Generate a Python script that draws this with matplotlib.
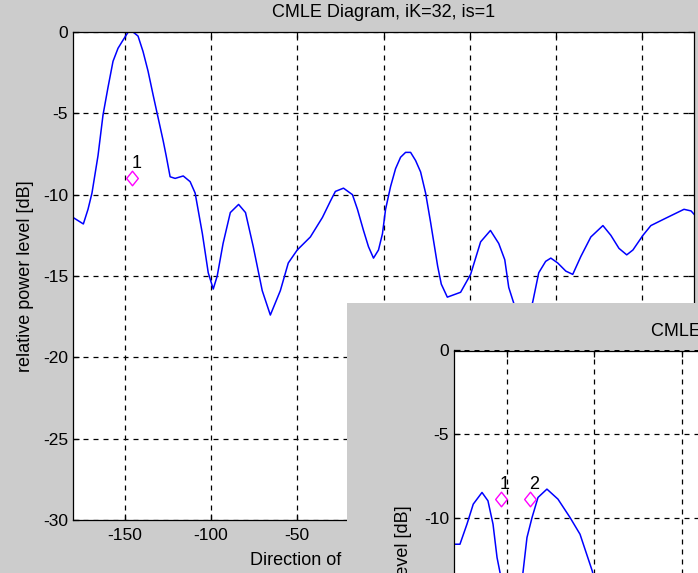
import matplotlib
matplotlib.use('Agg')
import matplotlib.pyplot as plt
from matplotlib.path import Path

plt.rcParams['font.family'] = ['Liberation Sans', 'DejaVu Sans']
plt.rcParams['axes.unicode_minus'] = False

# ---------------- data ----------------
title_main = 'CMLE Diagram, iK=32, is=1'
title_second = 'CMLE Diagram, iK=32, is=2'
x_label = 'Direction of arrival [deg]'
y_label = 'relative power level [dB]'
x_ticks = [-150, -100, -50, 0, 50, 100, 150]
y_ticks = [0, -5, -10, -15, -20, -25, -30]
second_visible_y_ticks = [0, -5, -10]

main_angle = [-180, -174, -171.3, -169, -165.5, -162.6, -159.7, -156.8, -153.9, -151, -148,
              -145.2, -142.3, -139.4, -136.5, -133.5, -130.6, -127.7, -126, -123.7, -120.8,
              -116.1, -112.1, -109.2, -105, -101.6, -98.7, -96.4, -93, -88.8, -84, -80, -75.5,
              -70.3, -65.6, -59.8, -55.2, -50, -42.4, -35.4, -30.8, -27.9, -23.2, -18, -15.1,
              -11.6, -8.7, -5.8, -2.9, -0.6, 1.2, 4.1, 7, 9.9, 12.8, 15.7, 18.6, 21.5, 24.4,
              27.3, 31.4, 33.5, 37, 44.7, 50.5, 56.3, 62, 66.8, 70.3, 72.6, 75, 81, 86.5, 90,
              94, 97, 101, 105.7, 109.7, 114.4, 120.2, 127.2, 131.8, 136.5, 141, 144.6, 150.4,
              155, 162.6, 168.4, 174.2, 178.3, 180]
main_power = [-11.4, -11.8, -10.9, -9.9, -7.6, -5.1, -3.4, -1.8, -1.0, -0.5, 0.0,
              0.0, -0.25, -1.2, -2.4, -3.9, -5.3, -6.7, -7.6, -8.9, -9.0,
              -8.85, -9.2, -9.9, -12.4, -14.8, -15.8, -15.0, -13.0, -11.1, -10.6, -11.1, -13.2,
              -15.9, -17.4, -15.9, -14.2, -13.4, -12.6, -11.4, -10.4, -9.8, -9.6, -10.0, -10.9,
              -12.2, -13.2, -13.9, -13.4, -12.4, -10.9, -9.5, -8.4, -7.7, -7.4, -7.4, -7.9, -8.6, -9.9,
              -11.7, -14.4, -15.5, -16.3, -16.0, -14.9, -12.9, -12.2, -13.0, -14.0, -15.7, -16.5, -18.5, -16.6, -14.8,
              -14.1, -13.9, -14.2, -14.7, -14.9, -13.8, -12.6, -11.9, -12.5, -13.3, -13.7, -13.4, -12.5,
              -11.9, -11.5, -11.2, -10.9, -11.0, -11.2]
main_marker_angle = [-146]
main_marker_power = [-9.0]
main_marker_labels = ['1']

second_angle = [-180, -176.6, -172.6, -169, -164, -160.6, -157.7, -155.4, -153.7, -147,
                -140.6, -138.3, -135.4, -132, -126.9, -120.6, -113.7, -108, -101, -95]
second_power = [-11.6, -11.6, -10.4, -9.2, -8.5, -9.0, -10.4, -12.4, -13.3, -18.0,
                -13.3, -11.2, -10.0, -8.8, -8.3, -8.9, -10.0, -11.0, -13.2, -15.8]
second_marker_angle = [-153.1, -136.6]
second_marker_power = [-8.9, -8.9]
second_marker_labels = ['1', '2']

# ---------------- layout ----------------
W, H = 698, 573
FS = 12.5
LFS = 13
GRAY = '#cccccc'


def px_rect(l, t, w, h):
    return [l / W, 1 - (t + h) / H, w / W, h / H]


diamond = Path([(0, 1), (0.8, 0), (0, -1), (-0.8, 0), (0, 1)],
               [Path.MOVETO, Path.LINETO, Path.LINETO, Path.LINETO, Path.CLOSEPOLY])


def style(ax, ylabels=y_ticks, xlabels=True):
    ax.set_xlim(-180, 180)
    ax.set_ylim(-30, 0)
    ax.set_xticks(x_ticks)
    ax.set_yticks(y_ticks)
    ax.set_xticklabels([str(t) for t in x_ticks] if xlabels else ['' for t in x_ticks])
    ax.set_yticklabels([str(t) if t in ylabels else '' for t in y_ticks])
    ax.grid(True, color='black', linestyle=(0, (4, 4)), linewidth=0.9)
    ax.tick_params(direction='in', length=4.5, width=0.9, top=True, right=True,
                   labelsize=FS, colors='black')
    ax.tick_params(axis='x', pad=6)
    ax.tick_params(axis='y', pad=3.5)
    for s in ax.spines.values():
        s.set_linewidth(0.9)
        s.set_color('black')
    ax.set_facecolor('white')


fig = plt.figure(figsize=(W / 100, H / 100), dpi=100, facecolor=GRAY)

# main window axes
ax = fig.add_axes(px_rect(73, 32, 621, 488))
style(ax)
ax.plot(main_angle, main_power, color='#0000ff', linewidth=1.1)
ax.plot(main_marker_angle, main_marker_power, linestyle='none', marker=diamond,
        markersize=10.5, markerfacecolor='none', markeredgecolor='#ff00ff', markeredgewidth=1.0)
for a, p, t in zip(main_marker_angle, main_marker_power, main_marker_labels):
    ax.text(a - 0.3, p + 0.64, t, fontsize=LFS, ha='left', va='baseline', color='black')
ax.set_title(title_main, fontsize=LFS, pad=10.5, color='black')
ax.set_ylabel(y_label, fontsize=LFS, color='black')
ax.yaxis.set_label_coords(-0.063, 0.5)
ax.set_xlabel(x_label, fontsize=LFS, color='black', ha='left')
ax.xaxis.set_label_coords(0.285, -0.066)

# second (overlapping) window background
bg = fig.add_axes(px_rect(347, 303, 351, 270))
bg.set_facecolor(GRAY)
bg.set_xticks([])
bg.set_yticks([])
for s in bg.spines.values():
    s.set_visible(False)

# second window axes
ax2 = fig.add_axes(px_rect(454, 350.5, 630, 501))
style(ax2, ylabels=second_visible_y_ticks, xlabels=False)
ax2.plot(second_angle, second_power, color='#0000ff', linewidth=1.1)
ax2.plot(second_marker_angle, second_marker_power, linestyle='none', marker=diamond,
         markersize=10.5, markerfacecolor='none', markeredgecolor='#ff00ff', markeredgewidth=1.0)
for a, p, t in zip(second_marker_angle, second_marker_power, second_marker_labels):
    ax2.text(a - 0.6, p + 0.6, t, fontsize=LFS, ha='left', va='baseline', color='black')
ax2.set_title(title_second, fontsize=LFS, pad=10.5, color='black')
ax2.title.set_x(0.489)
ax2.set_ylabel(y_label, fontsize=LFS, color='black')
ax2.yaxis.set_label_coords(-0.0667, 0.5)

fig.savefig('out.png', dpi=100, facecolor=GRAY)
